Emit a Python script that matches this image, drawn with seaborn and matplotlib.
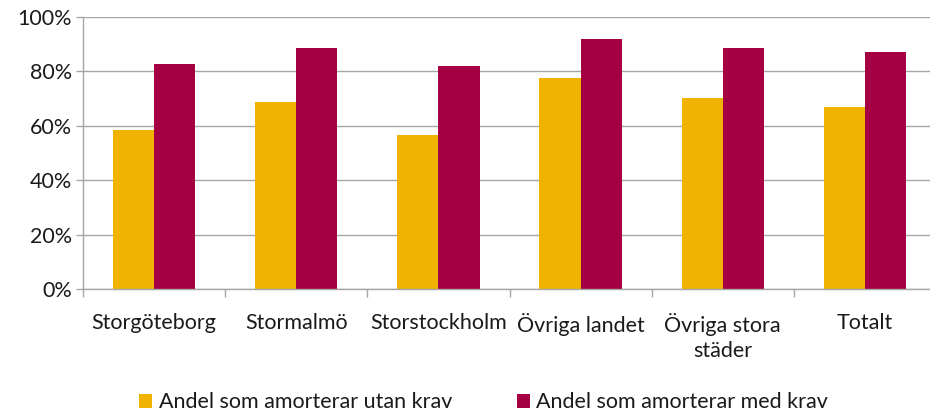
import numpy as np
import pandas as pd
import seaborn as sns
import matplotlib.pyplot as plt
from matplotlib.ticker import PercentFormatter, FixedLocator
from matplotlib.patches import Patch

categories = ["Storgöteborg", "Stormalmö", "Storstockholm", "Övriga landet",
              "Övriga stora\nstäder", "Totalt"]
utan_krav = [58.5, 68.9, 56.6, 77.5, 70.3, 67.0]
med_krav = [82.6, 88.6, 82.0, 91.9, 88.6, 87.2]
series = ["Andel som amorterar utan krav", "Andel som amorterar med krav"]
colors = ["#F0B400", "#A50043"]

df = pd.DataFrame({
    "kategori": categories * 2,
    "andel": utan_krav + med_krav,
    "serie": [series[0]] * len(categories) + [series[1]] * len(categories),
})

sns.set_style("white")
plt.rcParams["font.family"] = ["Lato", "DejaVu Sans"]
fs = 15.5

fig = plt.figure(figsize=(9.3, 4.17), dpi=100)
ax = fig.add_axes([83 / 930, 128 / 417, 853 / 930, 272 / 417])

sns.barplot(data=df, x="kategori", y="andel", hue="serie", palette=colors,
            width=0.58, gap=0, saturation=1, linewidth=0, ax=ax, legend=False)

ax.set_ylim(0, 100)
ax.set_xlim(-0.5, len(categories) - 0.5)
ax.yaxis.set_major_formatter(PercentFormatter(decimals=0))
ax.set_yticks(np.arange(0, 101, 20))
ax.set_xlabel("")
ax.set_ylabel("")
ax.grid(axis="y", color="#A6A6A6", linewidth=1)
ax.set_axisbelow(True)
for side in ["top", "right"]:
    ax.spines[side].set_visible(False)
for side in ["left", "bottom"]:
    ax.spines[side].set_color("#A6A6A6")
    ax.spines[side].set_linewidth(1)

ax.xaxis.set_minor_locator(FixedLocator(np.arange(-0.5, len(categories), 1)))
ax.tick_params(axis="x", which="major", bottom=False, pad=14, labelsize=fs,
               colors="#1a1a1a")
ax.tick_params(axis="x", which="minor", bottom=True, length=6, width=1,
               color="#A6A6A6", direction="out")
ax.tick_params(axis="y", left=True, length=5, width=1, color="#A6A6A6",
               direction="out", labelsize=fs, labelcolor="#1a1a1a", pad=3)
for lbl in ax.get_xticklabels():
    lbl.set_linespacing(1.3)
    lbl.set_verticalalignment("top")

handles = [Patch(facecolor=c, edgecolor="none") for c in colors]
fig.legend(handles, series, loc="center", bbox_to_anchor=(0.52, 0.035), ncol=2,
           frameon=False, fontsize=fs, handlelength=0.6, handleheight=0.6,
           handletextpad=0.3, columnspacing=3.0, labelcolor="#1a1a1a")

fig.savefig("out.png", dpi=100)
